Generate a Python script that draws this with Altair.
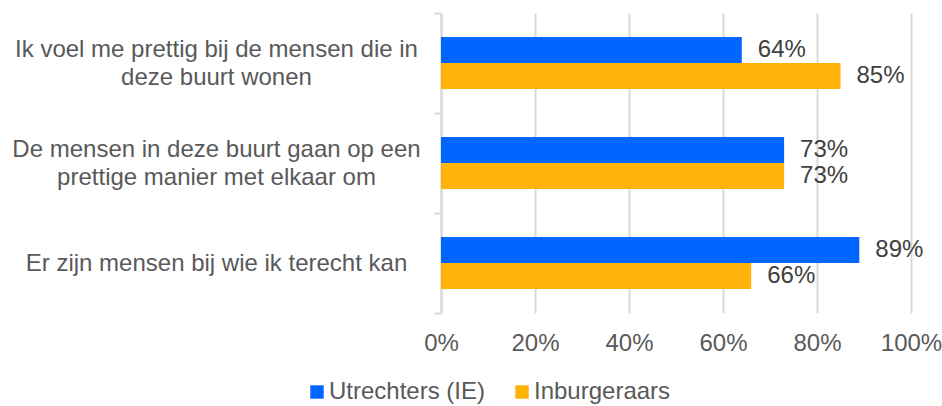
import altair as alt
import pandas as pd

categories = [
    "Ik voel me prettig bij de mensen die in|deze buurt wonen",
    "De mensen in deze buurt gaan op een|prettige manier met elkaar om",
    "Er zijn mensen bij wie ik terecht kan",
]
series = ["Utrechters (IE)", "Inburgeraars"]
utrechters = [0.64, 0.73, 0.89]
inburgeraars = [0.85, 0.73, 0.66]
colors = ["#0066FF", "#FFB30A"]

rows = []
for c, u, i in zip(categories, utrechters, inburgeraars):
    rows.append({"cat": c, "series": series[0], "value": u})
    rows.append({"cat": c, "series": series[1], "value": i})
df = pd.DataFrame(rows)

FONT = "Liberation Sans"
FS = 24

y_enc = alt.Y(
    "cat:N",
    sort=categories,
    title=None,
    scale=alt.Scale(paddingInner=0, paddingOuter=0),
    axis=alt.Axis(
        labelExpr="split(datum.label, '|')",
        labelAlign="center",
        labelPadding=218,
        labelOffset=alt.condition("indexof(datum.label, '|') >= 0", alt.value(-14), alt.value(0)),
        labelFontSize=FS,
        labelFont=FONT,
        labelColor="#595959",
        labelLineHeight=28,
        labelLimit=0,
        tickBand="extent",
        tickSize=7,
        tickColor="#D9D9D9",
        tickWidth=2,
        domainColor="#D9D9D9",
        domainWidth=2,
        grid=False,
    ),
)
yoff = alt.YOffset("series:N", sort=series, scale=alt.Scale(paddingInner=0, paddingOuter=0.923))
x_enc = alt.X(
    "value:Q",
    title=None,
    scale=alt.Scale(domain=[0, 1], nice=False),
    axis=alt.Axis(
        format=".0%",
        values=[0, 0.2, 0.4, 0.6, 0.8, 1.0],
        domain=False,
        ticks=False,
        grid=True,
        gridColor="#D9D9D9",
        gridWidth=2,
        labelFlush=False,
        labelFontSize=FS,
        labelFont=FONT,
        labelColor="#595959",
        labelPadding=18,
    ),
)

bars = alt.Chart(df).mark_bar().encode(
    x=x_enc,
    y=y_enc,
    yOffset=yoff,
    color=alt.Color(
        "series:N",
        sort=series,
        scale=alt.Scale(domain=series, range=colors),
        legend=alt.Legend(
            title=None,
            orient="none",
            legendX=-136,
            legendY=367,
            direction="horizontal",
            symbolType="square",
            symbolSize=180,
            symbolStrokeWidth=0,
            labelFontSize=FS,
            labelFont=FONT,
            labelColor="#595959",
            columnPadding=24,
            labelOffset=0,
        ),
    ),
)

labels = alt.Chart(df).mark_text(
    align="left", baseline="middle", dx=16, fontSize=FS, font=FONT, color="#404040"
).encode(
    x="value:Q",
    y=alt.Y("cat:N", sort=categories),
    yOffset=alt.YOffset("series:N", sort=series),
    text=alt.Text("value:Q", format=".0%"),
)

chart = (
    alt.layer(bars, labels)
    .properties(
        width=470,
        height=300,
        padding={"left": 441, "top": 13, "right": 31, "bottom": 93},
        autosize="none",
        background="white",
    )
    .configure_view(stroke=None)
)

chart.save("out.html", embed_options={"renderer": "svg", "actions": False})
